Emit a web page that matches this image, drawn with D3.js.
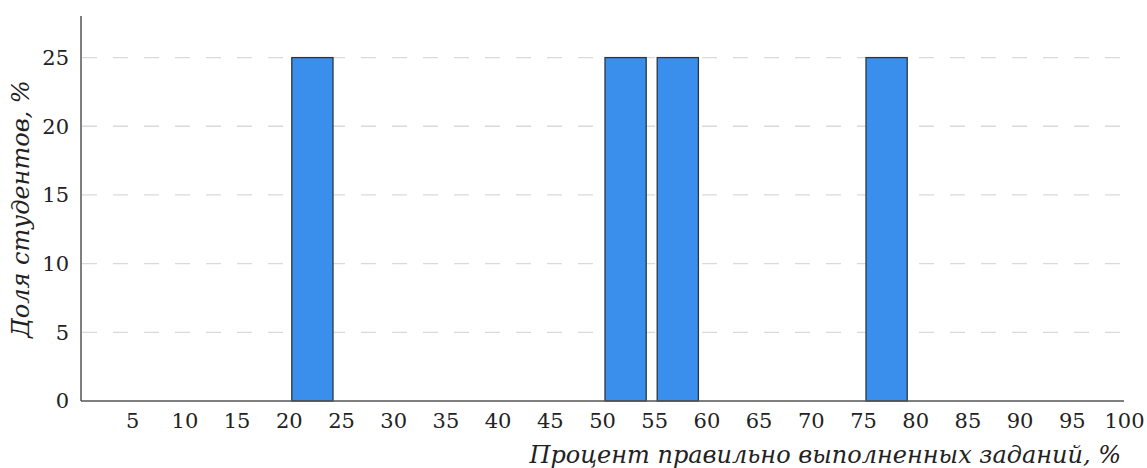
<!DOCTYPE html>
<html><head><meta charset="utf-8">
<script src="https://cdn.jsdelivr.net/npm/d3@7"></script>
<style>body{margin:0;background:#fff}svg{display:block}</style>
</head><body>
<script>
const binStarts = [0,5,10,15,20,25,30,35,40,45,50,55,60,65,70,75,80,85,90,95];
const shares    = [0,0,0,0,25,0,0,0,0,0,25,25,0,0,0,25,0,0,0,0];
const xTicks = [5,10,15,20,25,30,35,40,45,50,55,60,65,70,75,80,85,90,95,100];
const yTicks = [0,5,10,15,20,25];
const xTitle = "Процент правильно выполненных заданий, %";
const yTitle = "Доля студентов, %";

const W = 1147, H = 468;
const svg = d3.select("body").append("svg").attr("width", W).attr("height", H);
const font = "'DejaVu Serif', serif";

const x = d3.scaleLinear().domain([0,100]).range([80,1124]);
const y = d3.scaleLinear().domain([0,28.1]).range([401,15]);

// gridlines
svg.append("g").selectAll("line").data(yTicks.filter(d=>d>0)).join("line")
  .attr("x1", 82).attr("x2", 1123)
  .attr("y1", d=>y(d)).attr("y2", d=>y(d))
  .attr("stroke", "#d9d9d9").attr("stroke-width", 1.3)
  .attr("stroke-dasharray", "15,16");

// bars
const data = binStarts.map((b,i)=>({b, v: shares[i]})).filter(d=>d.v>0);
svg.append("g").selectAll("rect").data(data).join("rect")
  .attr("x", d=>x(d.b)+3)
  .attr("y", d=>y(d.v))
  .attr("width", d=>x(d.b+5)-x(d.b)-11)
  .attr("height", d=>y(0)-y(d.v))
  .attr("fill", "#3a8fed").attr("stroke", "#2b3645").attr("stroke-width", 1.3);

// axes
const xAxis = d3.axisBottom(x).tickValues(xTicks).tickSize(0).tickPadding(12);
const gx = svg.append("g").attr("transform", "translate(0,401)").call(xAxis);
gx.select(".domain").attr("d", "M81,0H1124").attr("stroke", "#555").attr("stroke-width", 1.5);
gx.selectAll("text").attr("font-family", font).attr("font-size", 21).attr("fill", "#222");

const yAxis = d3.axisLeft(y).tickValues(yTicks).tickSize(0).tickPadding(12);
const gy = svg.append("g").attr("transform", "translate(81,0)").call(yAxis);
gy.select(".domain").attr("d", "M0,16V401").attr("stroke", "#555").attr("stroke-width", 1.5);
gy.selectAll("text").attr("font-family", font).attr("font-size", 21).attr("fill", "#222");

svg.append("text").attr("x", 1121).attr("y", 463).attr("text-anchor", "end")
  .attr("font-family", font).attr("font-style", "italic").attr("font-size", 24).attr("fill", "#222")
  .text(xTitle);
svg.append("text").attr("transform", "translate(29,209) rotate(-90)").attr("text-anchor", "middle")
  .attr("font-family", font).attr("font-style", "italic").attr("font-size", 24).attr("fill", "#222")
  .text(yTitle);
</script>
</body></html>
